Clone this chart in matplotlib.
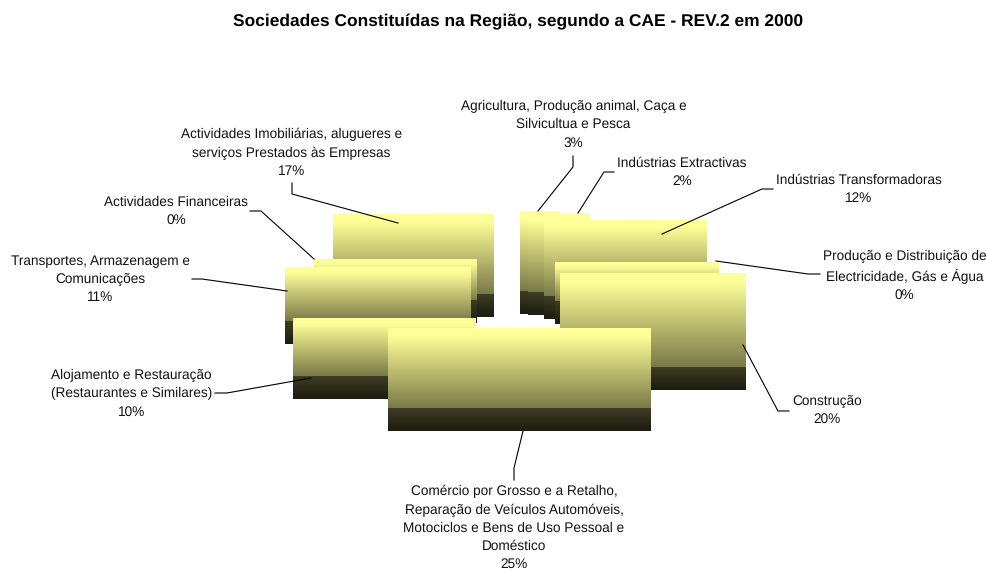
import numpy as np
import matplotlib
matplotlib.use('Agg')
import matplotlib.pyplot as plt
from matplotlib.colors import LinearSegmentedColormap

plt.rcParams['font.family'] = ['Liberation Sans', 'DejaVu Sans']
plt.rcParams['text.hinting'] = 'no_hinting'

title = 'Sociedades Constituídas na Região, segundo a CAE - REV.2 em 2000'
names = ['Agricultura, Produção animal, Caça e\nSilvicultua e Pesca',
         'Indústrias Extractivas',
         'Indústrias Transformadoras',
         'Produção e Distribuição de\nElectricidade, Gás e Água',
         'Construção',
         'Comércio por Grosso e a Retalho,\nReparação de Veículos Automóveis,\nMotociclos e Bens de Uso Pessoal e\nDoméstico',
         'Alojamento e Restauração\n(Restaurantes e Similares)',
         'Transportes, Armazenagem e\nComunicações',
         'Actividades Financeiras',
         'Actividades Imobiliárias, alugueres e\nserviços Prestados às Empresas']
shares = [3.4, 2.0, 11.6, 0.1, 20.0, 25.0, 10.0, 11.0, 0.4, 16.5 + 0.01]
label_x = [573.5, 682, 859, 904.5, 827, 514, 131.5, 100, 176, 291.5]
label_y = [100, 157, 174, 249.5, 395, 485, 369, 254.5, 196, 128]
leaders = [[(573, 156), (573, 167), (538, 211)],
           [(614, 172), (604, 172), (578, 213)],
           [(773, 189), (762, 189), (662, 234)],
           [(820, 274), (808, 274), (716, 261)],
           [(789, 411), (778, 411), (743, 345)],
           [(514, 480), (514, 468), (523, 431)],
           [(215, 393), (227, 393), (311, 378)],
           [(192, 279), (202, 279), (287, 291)],
           [(250, 211), (261, 211), (314, 259)],
           [(292, 183), (292, 194), (398, 223)]]

# pie geometry in pixels
cx, cy = 515.3, 309.6
rx, ry = 186, 80
depth = 23
ex, ey = 45, 18.4

face = LinearSegmentedColormap.from_list('face', [(0, '#FFFF99'), (0.08, '#FFFF99'), (1, '#7A7A48')])
side = LinearSegmentedColormap.from_list('side', ['#3D3D24', '#1C1C10'])
ramp = np.linspace(0, 1, 64).reshape(-1, 1)

fig = plt.figure(figsize=(9.87, 5.71), dpi=100)
ax = fig.add_axes([0, 0, 1, 1])
ax.axis('off')

edges = np.cumsum([0] + shares) / sum(shares) * 2 * np.pi


def slice_box(a, b):
    # bounding box of one exploded slice, angles clockwise from north
    mid = (a + b) / 2
    ox = cx + ex * np.sin(mid)
    oy = cy - ey * np.cos(mid)
    t = np.append(np.linspace(a, b, 721), [x for x in np.arange(0, 5) * np.pi / 2 if a <= x <= b])
    xs = np.append(ox + rx * np.sin(t), ox)
    ys = np.append(oy - ry * np.cos(t), oy)
    return xs.min(), xs.max(), ys.min(), ys.max()


# back to front: right side, left side, then the front slice
order = [0, 1, 2, 3, 4, 9, 8, 7, 6, 5]
for z, i in enumerate(order):
    x0, x1, y0, y1 = slice_box(edges[i], edges[i + 1])
    ax.imshow(ramp, cmap=face, extent=(x0, x1, y1, y0), aspect='auto', zorder=2 + z, interpolation='bilinear')
    ax.imshow(ramp, cmap=side, extent=(x0, x1, y1 + depth, y1), aspect='auto', zorder=2 + z, interpolation='bilinear')

ax.set_xlim(0, 987)
ax.set_ylim(571, 0)

for pts in leaders:
    xs, ys = zip(*pts)
    ax.plot(xs, ys, color='black', lw=0.8, zorder=20)

for i in range(len(names)):
    ax.text(label_x[i], label_y[i], names[i] + '\n%d%%' % round(shares[i]), ha='center', va='top',
            fontsize=9.85, color='#111111', linespacing=1.5, zorder=21)

ax.text(518, 22, title, ha='center', va='center', fontsize=12.5, fontweight='bold', color='black')

fig.savefig('out.png', dpi=100)
